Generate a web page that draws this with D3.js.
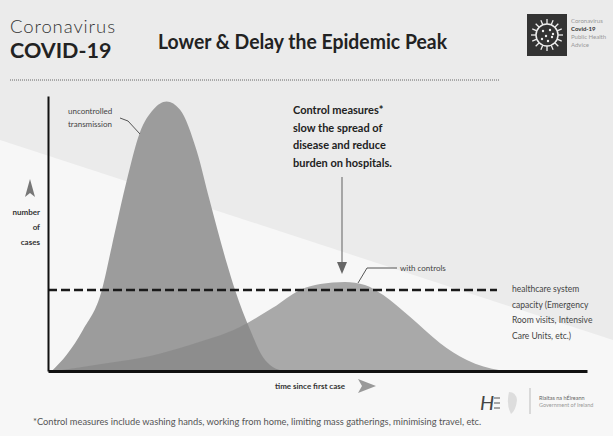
<!DOCTYPE html>
<html>
<head>
<meta charset="utf-8">
<script src="https://cdn.jsdelivr.net/npm/d3@7"></script>
<style>
  body { margin: 0; background: #f6f6f6; }
  svg { display: block; font-family: Lato, "Open Sans", sans-serif; }
</style>
</head>
<body>
<div id="chart"></div>
<script>
// curves (time 0-100, cases 0-100)
var uncontrolledT = [0.7, 3.5, 6.5, 10, 11.8, 14.7, 17, 19.5, 22, 24.5, 27.6, 30, 33.2, 34.7, 37.5, 39.9, 41.7, 44];
var uncontrolledV = [0, 6, 15, 29.5, 45, 70, 86.5, 95, 98, 95, 80, 62, 39, 29.5, 15, 5, 1.5, 0];
var controlsT = [1.3, 9.6, 17.1, 26.3, 35.6, 41.7, 46.8, 50.5, 55.1, 58.8, 62.2, 67.2, 72.7, 77.7, 83.9, 85.7];
var controlsV = [0, 2.5, 4.7, 9.5, 16, 23, 29.5, 31.6, 32.4, 31.3, 27.6, 19.6, 10.2, 4, 0.3, 0];
var capacity = 29.5;
var capacityEnd = 83.3;

var capacityLabel = ["healthcare system", "capacity (Emergency", "Room visits, Intensive", "Care Units, etc.)"];
var controlText = ["Control measures*", "slow the spread of", "disease and reduce", "burden on hospitals."];
var yLabel = ["number", "of", "cases"];

var W = 613, H = 436;
var svg = d3.select("#chart").append("svg").attr("width", W).attr("height", H);

// scanned-page background band
svg.append("rect").attr("width", W).attr("height", H).attr("fill", "#f7f7f7");
svg.append("path")
    .attr("d", "M0,0 L613,0 L613,340 L0,140 Z")
    .attr("fill", "#ebebeb");

var x = d3.scaleLinear().domain([0, 100]).range([48, 587]);
var y = d3.scaleLinear().domain([0, 100]).range([371, 96]);

var area = d3.area()
    .x(function(d) { return x(d[0]); })
    .y0(y(0))
    .y1(function(d) { return y(d[1]); })
    .curve(d3.curveMonotoneX);

var unc = d3.zip(uncontrolledT, uncontrolledV);
var ctl = d3.zip(controlsT, controlsV);

svg.append("path").datum(unc).attr("d", area).attr("fill", "#9c9c9c");
svg.append("path").datum(ctl).attr("d", area).attr("fill", "#878787").attr("fill-opacity", 0.7);

// capacity line
svg.append("line")
    .attr("x1", x(0)).attr("x2", x(capacityEnd))
    .attr("y1", y(capacity)).attr("y2", y(capacity))
    .attr("stroke", "#1a1a1a").attr("stroke-width", 2.5)
    .attr("stroke-dasharray", "9,4");

// axes
svg.append("g").attr("transform", "translate(0," + y(0) + ")")
    .call(d3.axisBottom(x).ticks(0).tickSizeOuter(0))
    .select(".domain").attr("stroke", "#111").attr("stroke-width", 3);
svg.append("g").attr("transform", "translate(" + x(0) + ",0)")
    .call(d3.axisLeft(y).ticks(0).tickSizeOuter(0))
    .select(".domain").attr("stroke", "#111").attr("stroke-width", 2);

// header
svg.append("text").attr("x", 10).attr("y", 33).attr("font-size", 18.5).attr("font-weight", 300)
    .attr("fill", "#333").attr("textLength", 105).text("Coronavirus");
svg.append("text").attr("x", 10).attr("y", 58).attr("font-size", 21.5).attr("font-weight", "bold")
    .attr("fill", "#222").text("COVID-19");
svg.append("text").attr("x", 158).attr("y", 49).attr("font-size", 20).attr("font-weight", "bold")
    .attr("fill", "#222").attr("textLength", 289).attr("lengthAdjust", "spacingAndGlyphs")
    .text("Lower & Delay the Epidemic Peak");
svg.append("line").attr("x1", 10).attr("x2", 500).attr("y1", 80).attr("y2", 80)
    .attr("stroke", "#666").attr("stroke-width", 1).attr("stroke-dasharray", "1,1");

// virus logo
var logo = svg.append("g").attr("transform", "translate(547,35)");
logo.append("rect").attr("x", -20).attr("y", -21).attr("width", 40).attr("height", 42).attr("fill", "#333");
logo.append("circle").attr("r", 11).attr("fill", "none").attr("stroke", "#eee").attr("stroke-width", 1.5);
d3.range(16).forEach(function(i) {
  var a = i / 16 * 2 * Math.PI;
  logo.append("line")
      .attr("x1", 11 * Math.cos(a)).attr("y1", 11 * Math.sin(a))
      .attr("x2", 16 * Math.cos(a)).attr("y2", 16 * Math.sin(a))
      .attr("stroke", "#eee").attr("stroke-width", 1.3);
});
[[-4, -4], [3, -5], [-1, 1], [5, 2], [-5, 4], [1, 6], [6, -1]].forEach(function(p) {
  logo.append("circle").attr("cx", p[0]).attr("cy", p[1]).attr("r", 1.2).attr("fill", "#eee");
});
var logoText = ["Coronavirus", "Covid-19", "Public Health", "Advice"];
logoText.forEach(function(t, i) {
  svg.append("text").attr("x", 571).attr("y", 23 + i * 8).attr("font-size", 6)
      .attr("font-weight", i === 1 ? "bold" : "normal")
      .attr("fill", i === 1 ? "#333" : "#999").text(t);
});

// control measures annotation
controlText.forEach(function(t, i) {
  svg.append("text").attr("x", 293).attr("y", 114 + i * 17.7).attr("font-size", 11)
      .attr("font-weight", "bold").attr("fill", "#222").text(t);
});
svg.append("line").attr("x1", 342).attr("x2", 342).attr("y1", 177).attr("y2", 266)
    .attr("stroke", "#777").attr("stroke-width", 1.2);
svg.append("path").attr("d", "M337,262 L347,262 L342,274 Z").attr("fill", "#666");

// with controls label
svg.append("path").attr("d", "M358,283 L367,268 L397,268")
    .attr("fill", "none").attr("stroke", "#555").attr("stroke-width", 1);
svg.append("text").attr("x", 400).attr("y", 271).attr("font-size", 8).attr("fill", "#444").text("with controls");

// uncontrolled label
svg.append("text").attr("x", 68).attr("y", 114).attr("font-size", 8).attr("fill", "#444").text("uncontrolled");
svg.append("text").attr("x", 68).attr("y", 127).attr("font-size", 8).attr("fill", "#444").text("transmission");
svg.append("path").attr("d", "M120,118 L128,121 L140,134")
    .attr("fill", "none").attr("stroke", "#555").attr("stroke-width", 1);

// capacity label
capacityLabel.forEach(function(t, i) {
  svg.append("text").attr("x", 512).attr("y", 292 + i * 15.5).attr("font-size", 8.5)
      .attr("fill", "#444").text(t);
});

// y label
svg.append("path").attr("d", "M30,179 L35,197 L30,193 L25,197 Z").attr("fill", "#777");
yLabel.forEach(function(t, i) {
  svg.append("text").attr("x", 40).attr("y", 215 + i * 15).attr("text-anchor", "end")
      .attr("font-size", 8).attr("font-weight", "bold").attr("fill", "#333").text(t);
});

// x label
svg.append("text").attr("x", 275).attr("y", 389).attr("font-size", 8).attr("font-weight", "bold")
    .attr("fill", "#333").text("time since first case");
svg.append("path").attr("d", "M358,379 L376,386 L358,393 L362,386 Z").attr("fill", "#999");

// bottom-right logos
svg.append("text").attr("x", 480).attr("y", 410).attr("font-size", 20).attr("font-style", "italic")
    .attr("fill", "#444").text("H");
[398, 403, 408].forEach(function(yy) {
  svg.append("line").attr("x1", 494).attr("x2", 500).attr("y1", yy).attr("y2", yy)
      .attr("stroke", "#555").attr("stroke-width", 1);
});
svg.append("path").attr("d", "M509,392 Q516,392 517,400 Q516,410 511,414 Q506,405 509,392 Z")
    .attr("fill", "#ddd");
svg.append("line").attr("x1", 530).attr("x2", 530).attr("y1", 388).attr("y2", 414)
    .attr("stroke", "#bbb").attr("stroke-width", 1);
svg.append("text").attr("x", 539).attr("y", 400).attr("font-size", 5.5).attr("fill", "#666").text("Rialtas na hÉireann");
svg.append("text").attr("x", 539).attr("y", 407).attr("font-size", 5.5).attr("fill", "#999").text("Government of Ireland");

// footnote
svg.append("text").attr("x", 33).attr("y", 425).attr("font-size", 9.3).attr("fill", "#555")
    .text("*Control measures include washing hands, working from home, limiting mass gatherings, minimising travel, etc.");
</script>
</body>
</html>
